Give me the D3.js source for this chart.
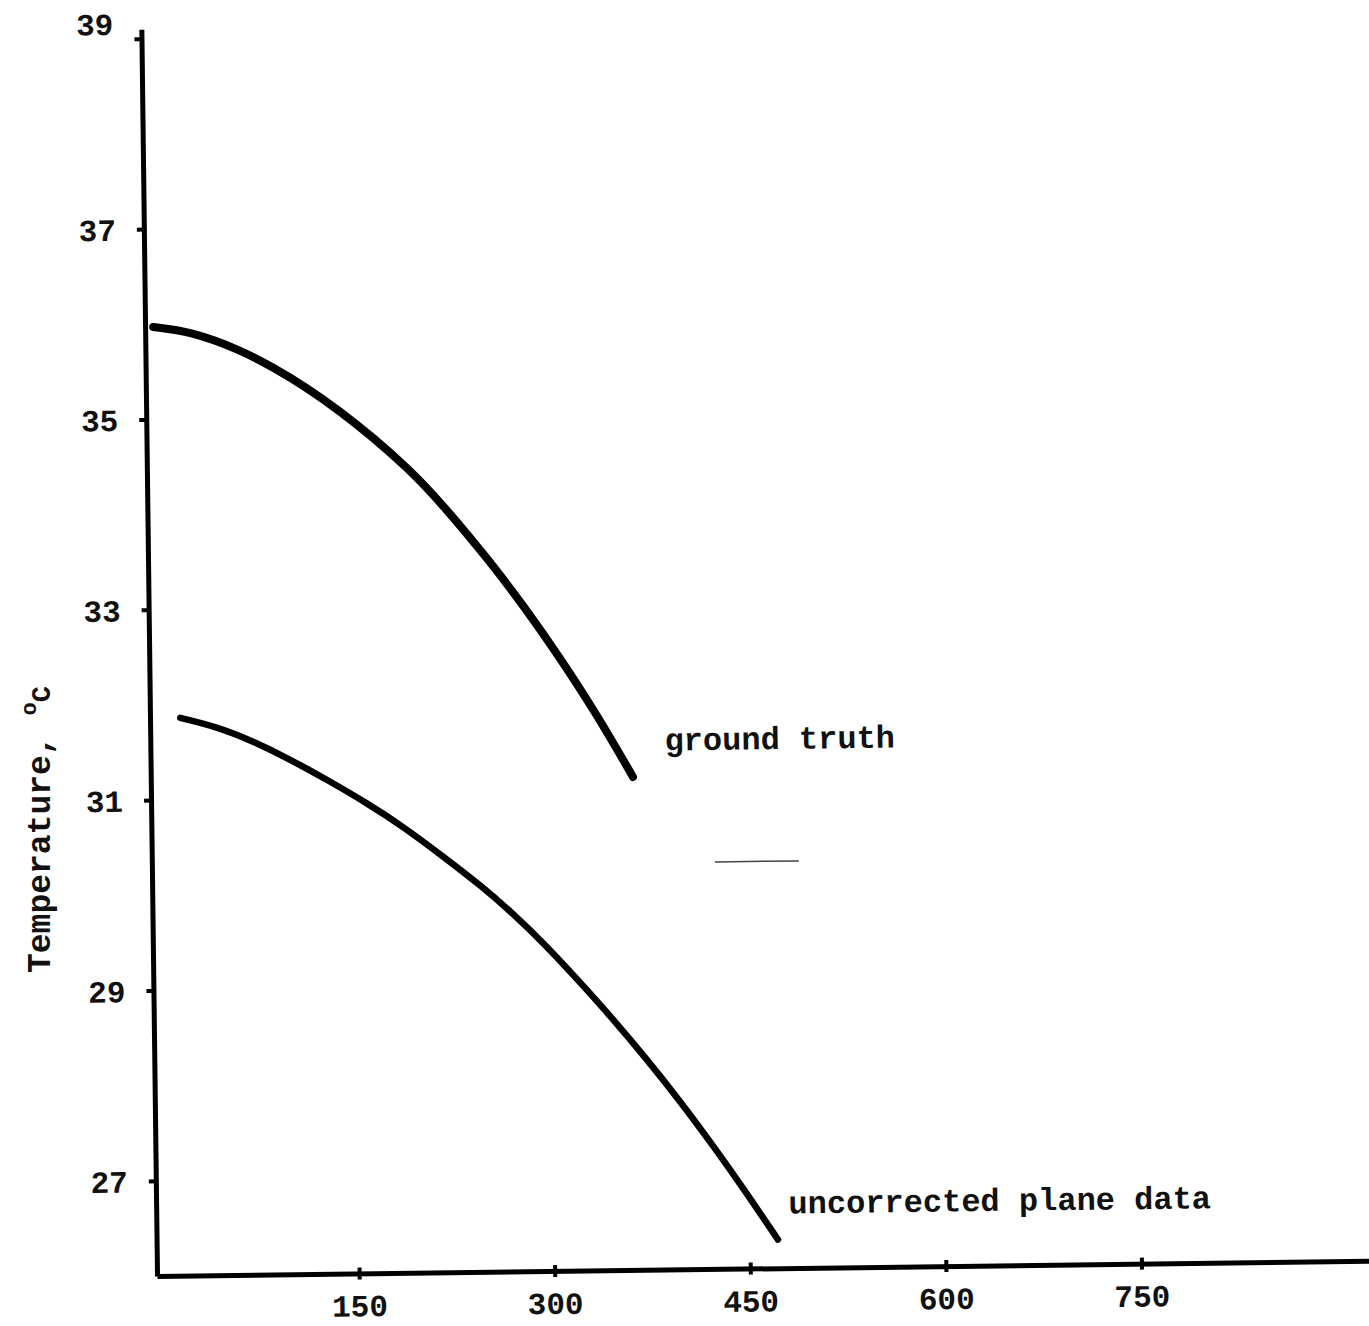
<!DOCTYPE html>
<html>
<head>
<meta charset="utf-8">
<script src="https://cdn.jsdelivr.net/npm/d3@7"></script>
<style>
  html, body { margin: 0; padding: 0; background: #ffffff; }
  svg { display: block; }
  text { font-family: "Liberation Mono", "DejaVu Sans Mono", monospace; fill: #111; }
</style>
</head>
<body>
<svg id="chart" width="1369" height="1326"></svg>
<script>
// ---- data ----
const xTicks = [150, 300, 450, 600, 750];
const yTicks = [39, 37, 35, 33, 31, 29, 27];

const groundTruthX = [1.2, 29.6, 67.7, 92.8, 118.7, 143.7, 168.8, 194.6, 219.5, 257.3, 282.1, 307.7, 337.8, 364.8];
const groundTruthT = [35.97, 35.92, 35.72, 35.53, 35.31, 35.06, 34.78, 34.46, 34.10, 33.46, 33.00, 32.49, 31.84, 31.18];

const planeX = [18.2, 46.4, 71.6, 102.1, 130.2, 160.6, 188.0, 218.4, 248.8, 271.5, 297.2, 322.2, 347.1, 372.8, 397.7, 422.5, 448.1, 471.5];
const planeT = [31.86, 31.76, 31.62, 31.41, 31.19, 30.94, 30.69, 30.37, 30.04, 29.76, 29.41, 29.03, 28.64, 28.21, 27.77, 27.30, 26.79, 26.30];

const seriesLabels = ["ground truth", "uncorrected plane data"];
const yTitle = "Temperature,";

// ---- layout ----
const svg = d3.select("#chart");
const x = d3.scaleLinear().domain([-5, 926]).range([157, 1371]);
const y = d3.scaleLinear().domain([26, 39.1]).range([1276, 29.1]);

// the scanned page is slightly skewed; rotate the plot frame around the origin
const g = svg.append("g").attr("transform", "rotate(-0.72,157,1275)");

// y axis
const yAxis = g.append("g")
  .attr("transform", `translate(${x(-5)},0)`)
  .call(d3.axisLeft(y).tickValues(yTicks).tickSize(7).tickPadding(21).tickSizeOuter(0).tickFormat(d3.format("d")));
yAxis.select(".domain").attr("stroke", "#000").attr("stroke-width", 5);
yAxis.selectAll(".tick line").attr("stroke", "#000").attr("stroke-width", 4);
yAxis.selectAll(".tick text")
  .attr("font-size", 31).attr("font-weight", "bold")
  .attr("font-family", "Liberation Mono, monospace").attr("fill", "#111")
  .attr("dy", d => d === 39 ? "-0.15em" : "0.35em");

// x axis
const xAxis = g.append("g")
  .attr("transform", `translate(0,${y(26)})`)
  .call(d3.axisBottom(x).tickValues(xTicks).tickSize(6).tickPadding(15).tickSizeOuter(0).tickFormat(d3.format("d")));
xAxis.select(".domain").attr("stroke", "#000").attr("stroke-width", 5);
xAxis.selectAll(".tick line").attr("stroke", "#000").attr("stroke-width", 4).attr("y1", -6);
xAxis.selectAll(".tick text")
  .attr("font-size", 31).attr("font-weight", "bold")
  .attr("font-family", "Liberation Mono, monospace").attr("fill", "#111");

// curves
const line = d3.line().x(d => x(d[0])).y(d => y(d[1])).curve(d3.curveBasis);
const gt = groundTruthX.map((v, i) => [v, groundTruthT[i]]);
const pl = planeX.map((v, i) => [v, planeT[i]]);

g.append("path").datum(gt).attr("d", line)
  .attr("fill", "none").attr("stroke", "#000").attr("stroke-width", 8)
  .attr("stroke-linecap", "round").attr("stroke-linejoin", "round");
g.append("path").datum(pl).attr("d", line)
  .attr("fill", "none").attr("stroke", "#000").attr("stroke-width", 6.5)
  .attr("stroke-linecap", "round").attr("stroke-linejoin", "round");

// curve labels, anchored near the end of each curve
const gtEnd = gt[gt.length - 1], plEnd = pl[pl.length - 1];
g.append("text").attr("x", x(gtEnd[0]) + 32).attr("y", y(gtEnd[1]) - 26)
  .attr("font-size", 32).attr("font-weight", "bold").text(seriesLabels[0]);
g.append("text").attr("x", x(plEnd[0]) + 11).attr("y", y(plEnd[1]) - 26)
  .attr("font-size", 32).attr("font-weight", "bold").text(seriesLabels[1]);

// faint scan artefact line
g.append("line").attr("x1", 720).attr("x2", 804).attr("y1", 869).attr("y2", 869)
  .attr("stroke", "#444").attr("stroke-width", 1.5);

// y-axis title
const yt = svg.append("text")
  .attr("transform", "translate(50,973) rotate(-90)")
  .attr("font-size", 33).attr("font-weight", "bold");
yt.append("tspan").text(yTitle + " ");
yt.append("tspan").attr("font-size", 22).attr("dy", -14).text("o");
yt.append("tspan").attr("font-size", 27).attr("dy", 14).text("C");
</script>
</body>
</html>
